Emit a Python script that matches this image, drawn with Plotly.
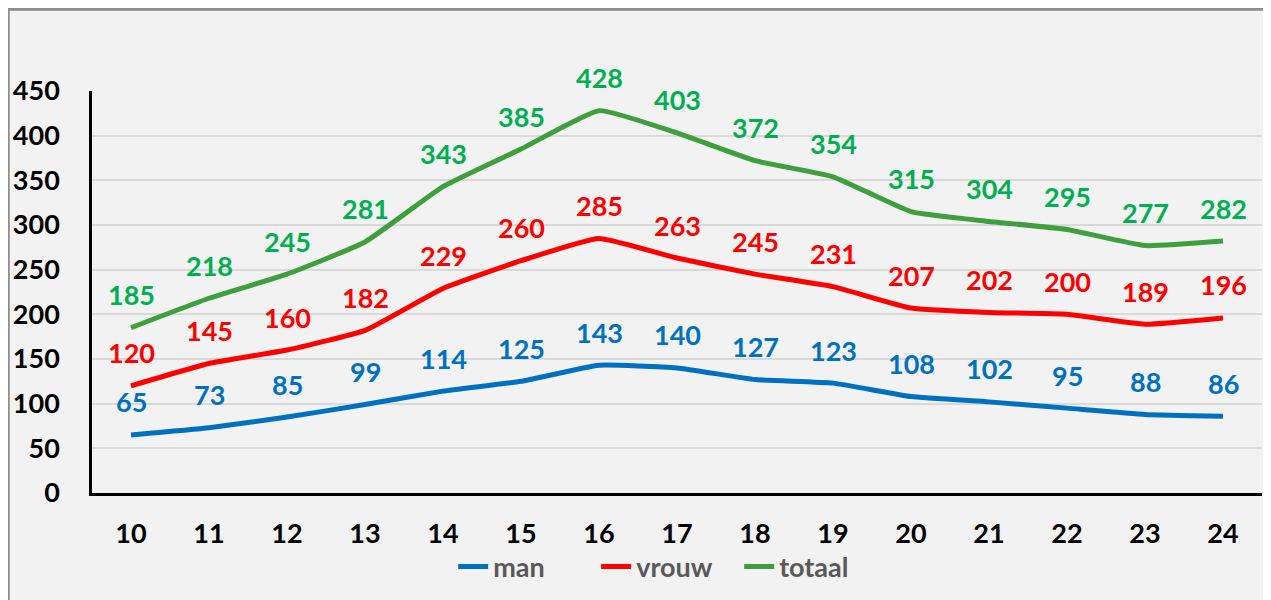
import plotly.graph_objects as go

categories = ["10", "11", "12", "13", "14", "15", "16", "17", "18", "19", "20", "21", "22", "23", "24"]
man = [65, 73, 85, 99, 114, 125, 143, 140, 127, 123, 108, 102, 95, 88, 86]
vrouw = [120, 145, 160, 182, 229, 260, 285, 263, 245, 231, 207, 202, 200, 189, 196]
totaal = [185, 218, 245, 281, 343, 385, 428, 403, 372, 354, 315, 304, 295, 277, 282]
y_ticks = [0, 50, 100, 150, 200, 250, 300, 350, 400, 450]

FONT = "Lato"
FS = 27
series = [
    ("man", man, "#0070C0", "#0070C0"),
    ("vrouw", vrouw, "#FF0000", "#FF0000"),
    ("totaal", totaal, "#3F9F3F", "#00B050"),
]

fig = go.Figure()
annotations = []
for name, vals, lc, tc in series:
    fig.add_trace(go.Scatter(
        x=categories, y=vals, name=name, mode="lines",
        line=dict(color=lc, width=5, shape="spline", smoothing=0.4),
        hoverinfo="skip",
    ))
    for i, v in enumerate(vals):
        annotations.append(dict(
            x=i, y=v, xref="x", yref="y", text=str(v), showarrow=False,
            yshift=33, yanchor="middle", xanchor="center",
            font=dict(family=FONT, size=FS, color=tc, weight="bold"),
        ))

fig.update_layout(
    width=1271, height=600,
    paper_bgcolor="#F2F2F2", plot_bgcolor="#F2F2F2",
    margin=dict(l=84, r=17, t=83, b=115, autoexpand=False),
    font=dict(family=FONT, size=FS, color="#000000", weight="bold"),
    annotations=annotations,
    showlegend=True,
    legend=dict(
        orientation="h", x=0.492, xanchor="center", y=-0.184, yanchor="middle",
        font=dict(family=FONT, size=FS, color="#595959", weight="bold"),
        bgcolor="rgba(0,0,0,0)", itemwidth=30, tracegroupgap=0,
        entrywidth=98, entrywidthmode="pixels",
    ),
    shapes=[dict(
        type="rect", xref="paper", yref="paper",
        x0=-0.0716, x1=1.03, y0=-0.4, y1=1.2033,
        line=dict(color="#8C8C8C", width=3), fillcolor="rgba(0,0,0,0)", layer="below",
    )],
)
fig.update_xaxes(
    type="category", range=[-0.5, 14.5],
    showline=True, linecolor="#000000", linewidth=2.5,
    showgrid=False, zeroline=False,
    ticks="outside", ticklen=15, tickcolor="rgba(0,0,0,0)",
    tickfont=dict(family=FONT, size=FS, color="#000000", weight="bold"),
)
fig.update_yaxes(
    range=[0, 450], tickvals=y_ticks,
    showline=True, linecolor="#000000", linewidth=2.5,
    showgrid=True, gridcolor="#D9D9D9", gridwidth=1.5,
    zeroline=False,
    ticks="outside", ticklen=24, tickcolor="rgba(0,0,0,0)",
    tickfont=dict(family=FONT, size=FS, color="#000000", weight="bold"),
)

fig.write_html("out.html")
